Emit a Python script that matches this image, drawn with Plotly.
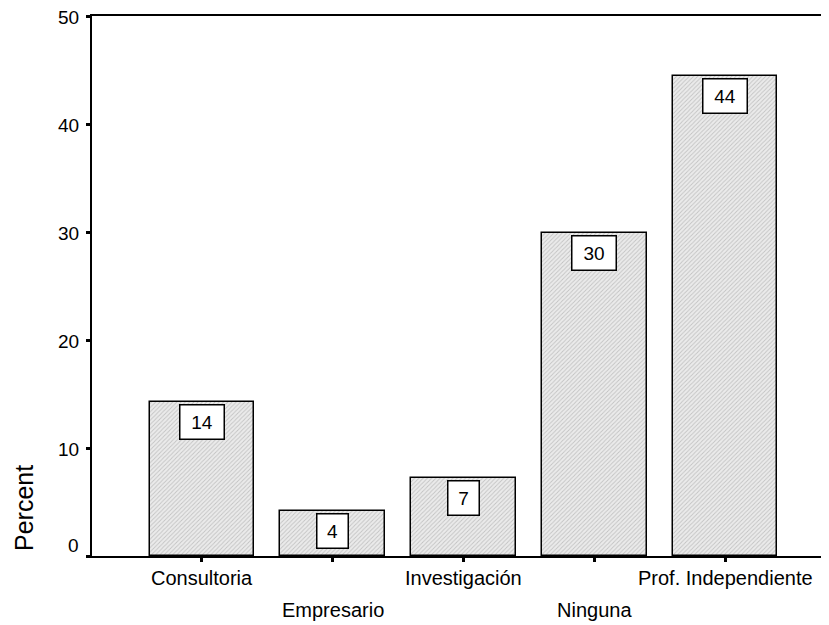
import plotly.graph_objects as go

categories = ["Consultoria", "Empresario", "Investigación", "Ninguna", "Prof. Independiente"]
percent = [14.3, 4.2, 7.2, 29.9, 44.4]
bar_labels = ["14", "4", "7", "30", "44"]
y_ticks = [0, 10, 20, 30, 40, 50]

FONT = "Arial, Liberation Sans, sans-serif"
xpos = list(range(len(categories)))

fig = go.Figure()
fig.add_trace(go.Bar(
    x=xpos, y=percent, width=0.8,
    marker=dict(
        color="#e4e4e4",
        line=dict(color="black", width=1.5),
        pattern=dict(shape="/", fgcolor="#9a9a9a", bgcolor="#ebebeb", size=3, solidity=0.3),
    ),
    hoverinfo="skip",
))

annotations = []
for i, (v, t) in enumerate(zip(percent, bar_labels)):
    annotations.append(dict(
        x=i, y=v, xref="x", yref="y", text=t, showarrow=False,
        yanchor="top", yshift=-2,
        font=dict(family=FONT, size=19, color="black"),
        bgcolor="white", bordercolor="black", borderwidth=1.5,
        borderpad=6, width=31 if len(t) > 1 else 18, height=21,
    ))

# staggered category labels
for i, c in enumerate(categories):
    annotations.append(dict(
        x=i, y=0, xref="x", yref="paper", text=c, showarrow=False,
        yanchor="middle", yshift=-22 if i % 2 == 0 else -54,
        font=dict(family=FONT, size=20, color="black"),
    ))

# y tick labels
for t in y_ticks:
    annotations.append(dict(
        x=0, y=t, xref="paper", yref="y", text=str(t), showarrow=False,
        xanchor="right", yanchor="middle", xshift=-11, yshift=11 if t == 0 else -1,
        font=dict(family=FONT, size=19, color="black"),
    ))

annotations.append(dict(
    x=0, y=0, xref="paper", yref="paper", text="Percent",
    showarrow=False, textangle=-90, xanchor="center", yanchor="middle",
    xshift=-68, yshift=48,
    font=dict(family=FONT, size=25, color="black"),
))

fig.update_layout(
    width=821, height=617,
    margin=dict(l=84, r=0, t=8, b=69),
    paper_bgcolor="white", plot_bgcolor="white",
    showlegend=False,
    bargap=0,
    annotations=annotations,
    font=dict(family=FONT, size=19, color="black"),
    xaxis=dict(
        range=[-0.841, 4.795], tickvals=xpos, ticktext=[""] * len(xpos),
        ticks="outside", ticklen=4, tickwidth=3, tickcolor="black",
        showline=True, linecolor="black", linewidth=2, mirror=True,
        showgrid=False, zeroline=False, fixedrange=True,
    ),
    yaxis=dict(
        range=[0, 50], tickvals=y_ticks, ticktext=[""] * len(y_ticks),
        ticks="outside", ticklen=4, tickwidth=3, tickcolor="black",
        showline=True, linecolor="black", linewidth=2,
        showgrid=False, zeroline=False, fixedrange=True,
    ),
)

fig.write_html("out.html")
